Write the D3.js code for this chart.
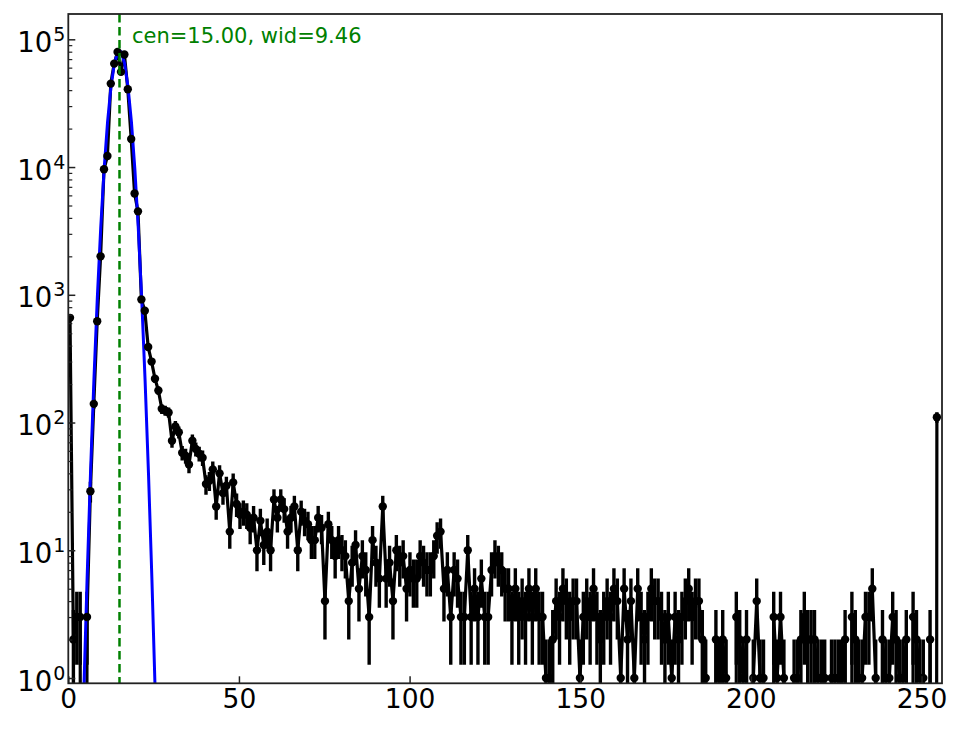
<!DOCTYPE html>
<html>
<head>
<meta charset="utf-8">
<script src="https://cdn.jsdelivr.net/npm/d3@7"></script>
<style>
  body { margin: 0; background: #fff; }
  text { font-family: "DejaVu Sans", sans-serif; }
</style>
</head>
<body>
<div id="chart"></div>
<script>
// histogram counts, 256 bins spanning 0..255
var counts = [
  660, 2, 3, 3, 0, 3, 29, 140, 620, 2000,
  9600, 12200, 45000, 64500, 79500, 55600, 76000, 40700, 16600, 6200,
  4500, 920, 750, 390, 300, 220, 178, 128, 124, 120,
  72, 93, 84, 58, 55, 47, 72, 62, 57, 53,
  33, 35, 43, 22, 40, 28, 32, 14, 34, 23,
  19, 20, 19, 15, 18, 10, 17, 11, 14, 10,
  25, 18, 25, 21, 14, 18, 22, 10, 20, 17,
  16, 12, 12, 18, 15, 4, 16, 12, 9, 12,
  10, 9, 4, 8, 11, 5, 9, 7, 3, 12,
  8, 6, 22, 6, 8, 4, 10, 8, 9, 5,
  7, 6, 6, 9, 8, 7, 7, 9, 13, 14,
  5, 7, 3, 7, 6, 3, 3, 10, 3, 5,
  3, 6, 3, 3, 7, 9, 8, 7, 5, 5,
  3, 5, 3, 4, 3, 5, 3, 5, 3, 3,
  1, 1, 2, 4, 3, 5, 4, 3, 4, 4,
  1, 3, 4, 3, 5, 3, 2, 3, 4, 3,
  5, 4, 1, 5, 2, 4, 1, 5, 3, 2,
  3, 5, 4, 4, 3, 2, 3, 1, 3, 2,
  3, 4, 5, 3, 4, 4, 2, 1, 0, 0,
  2, 1, 2, 1, 0, 0, 3, 2, 1, 2,
  0, 1, 4, 1, 1, 0, 0, 3, 1, 3,
  1, 0, 0, 1, 1, 2, 3, 2, 2, 2,
  1, 1, 1, 0, 1, 1, 1, 1, 2, 0,
  3, 2, 1, 1, 3, 3, 5, 1, 0, 2,
  1, 1, 3, 2, 1, 1, 2, 0, 3, 2,
  1, 1, 0, 2, 0, 110
];
var histMin = 0;
var histMax = 255;

// gaussian fit curve (blue)
var fitX = [3.5, 4.5, 5.5, 6.5, 7.5, 8.5, 9.5, 10.5, 11.5, 12.5, 13.5, 14.5,
            15.5, 16.5, 17.5, 18.5, 19.5, 20.5, 21.5, 22.5, 23.5, 24.5, 25.5, 26.5];
var fitY = [0.07, 0.71, 5.9, 39.6, 214, 942, 3350, 9640, 22460, 42350, 64640, 79860,
            79860, 64640, 42350, 22460, 9640, 3350, 942, 214, 39.6, 5.9, 0.71, 0.07];

var fitCen = 15.00;
var fitWid = 9.46;

var xTicks = [0, 50, 100, 150, 200, 250];
var yTicks = [1, 10, 100, 1000, 10000, 100000];

var svgWidth = 964;
var svgHeight = 729;

var chartMargin = { top: 14, right: 22, bottom: 45.7, left: 68.3 };
var chartWidth = svgWidth - chartMargin.left - chartMargin.right;
var chartHeight = svgHeight - chartMargin.top - chartMargin.bottom;

var svg = d3.select("#chart")
  .append("svg")
  .attr("width", svgWidth)
  .attr("height", svgHeight);

var chartGroup = svg.append("g")
  .attr("transform", `translate(${chartMargin.left}, ${chartMargin.top})`);

svg.append("defs").append("clipPath")
  .attr("id", "plotclip")
  .append("rect")
  .attr("width", chartWidth)
  .attr("height", chartHeight);

var xScale = d3.scaleLinear()
  .domain([0, 256])
  .range([0, chartWidth]);

var yScale = d3.scaleLog()
  .domain([0.909, 1.578e5])
  .range([chartHeight, 0]);

// bin centres
var binWidth = (histMax - histMin) / counts.length;
var tiny = 1e-30; // zero counts drop off the bottom (clipped log axis)
var pts = counts.map(function(c, i) {
  return { x: histMin + (i + 0.5) * binWidth, v: c };
});
var nonZero = pts.filter(function(d) { return d.v > 0; });

var plotArea = chartGroup.append("g").attr("clip-path", "url(#plotclip)");

// error bars, sqrt(N)
plotArea.append("g")
  .selectAll("line")
  .data(nonZero)
  .enter()
  .append("line")
  .attr("x1", function(d) { return xScale(d.x); })
  .attr("x2", function(d) { return xScale(d.x); })
  .attr("y1", function(d) { return yScale(d.v + Math.sqrt(d.v)); })
  .attr("y2", function(d) { return yScale(Math.max(d.v - Math.sqrt(d.v), tiny)); })
  .attr("stroke", "#000")
  .attr("stroke-width", 3.4);

// data line
var dataLine = d3.line()
  .x(function(d) { return xScale(d.x); })
  .y(function(d) { return yScale(d.v > 0 ? d.v : tiny); });

plotArea.append("path")
  .datum(pts)
  .attr("d", dataLine)
  .attr("fill", "none")
  .attr("stroke", "#000")
  .attr("stroke-width", 3.2)
  .attr("stroke-linejoin", "round");

// fit curve
var fitLine = d3.line()
  .x(function(d, i) { return xScale(fitX[i]); })
  .y(function(d) { return yScale(d); });

plotArea.append("path")
  .datum(fitY)
  .attr("d", fitLine)
  .attr("fill", "none")
  .attr("stroke", "#0000ff")
  .attr("stroke-width", 3)
  .attr("stroke-linejoin", "round");

// markers
plotArea.append("g")
  .selectAll("circle")
  .data(nonZero)
  .enter()
  .append("circle")
  .attr("cx", function(d) { return xScale(d.x); })
  .attr("cy", function(d) { return yScale(d.v); })
  .attr("r", 4.2)
  .attr("fill", "#000");

// centre line
plotArea.append("line")
  .attr("x1", xScale(fitCen))
  .attr("x2", xScale(fitCen))
  .attr("y1", 0)
  .attr("y2", chartHeight)
  .attr("stroke", "#008000")
  .attr("stroke-width", 2.5)
  .attr("stroke-dasharray", "8.5,4.5");

chartGroup.append("text")
  .attr("x", xScale(fitCen) + 12.5)
  .attr("y", 29)
  .attr("font-size", "21px")
  .attr("fill", "#008000")
  .text("cen=" + fitCen.toFixed(2) + ", wid=" + fitWid.toFixed(2));

// axes (ticks inside, left and bottom only)
var bottomAxis = d3.axisBottom(xScale)
  .tickValues(xTicks)
  .tickSize(-7)
  .tickFormat(d3.format("d"));

var xAxisGroup = chartGroup.append("g")
  .attr("transform", `translate(0, ${chartHeight})`)
  .call(bottomAxis);
xAxisGroup.select(".domain").remove();
xAxisGroup.selectAll(".tick line").attr("stroke", "#222").attr("stroke-width", 1.5);
xAxisGroup.selectAll(".tick text")
  .attr("y", 24.7)
  .attr("dy", null)
  .attr("font-size", "26.5px")
  .attr("font-family", "DejaVu Sans")
  .attr("fill", "#000");

var minorTicks = [];
yTicks.forEach(function(t) {
  for (var k = 2; k <= 9; k++) {
    if (t * k < 1.578e5) minorTicks.push(t * k);
  }
});

var minorAxis = d3.axisLeft(yScale)
  .tickValues(minorTicks)
  .tickSize(-4)
  .tickFormat("");
var yMinor = chartGroup.append("g").call(minorAxis);
yMinor.select(".domain").remove();
yMinor.selectAll(".tick line").attr("stroke", "#222").attr("stroke-width", 1.2);

var leftAxis = d3.axisLeft(yScale)
  .tickValues(yTicks)
  .tickSize(-7)
  .tickFormat("");
var yAxisGroup = chartGroup.append("g").call(leftAxis);
yAxisGroup.select(".domain").remove();
yAxisGroup.selectAll(".tick line").attr("stroke", "#222").attr("stroke-width", 1.5);

// 10^n labels
var yLabels = chartGroup.append("g")
  .selectAll("text")
  .data(yTicks)
  .enter()
  .append("text")
  .attr("x", -3)
  .attr("y", function(d) { return yScale(d) + 12.5; })
  .attr("text-anchor", "end")
  .attr("font-size", "27.5px")
  .attr("fill", "#000");
yLabels.append("tspan").text("10");
yLabels.append("tspan")
  .attr("dy", -11)
  .attr("dx", 1)
  .attr("font-size", "19px")
  .text(function(d) { return Math.round(Math.log10(d)); });

// frame
chartGroup.append("rect")
  .attr("width", chartWidth)
  .attr("height", chartHeight)
  .attr("fill", "none")
  .attr("stroke", "#222")
  .attr("stroke-width", 1.8);
</script>
</body>
</html>
